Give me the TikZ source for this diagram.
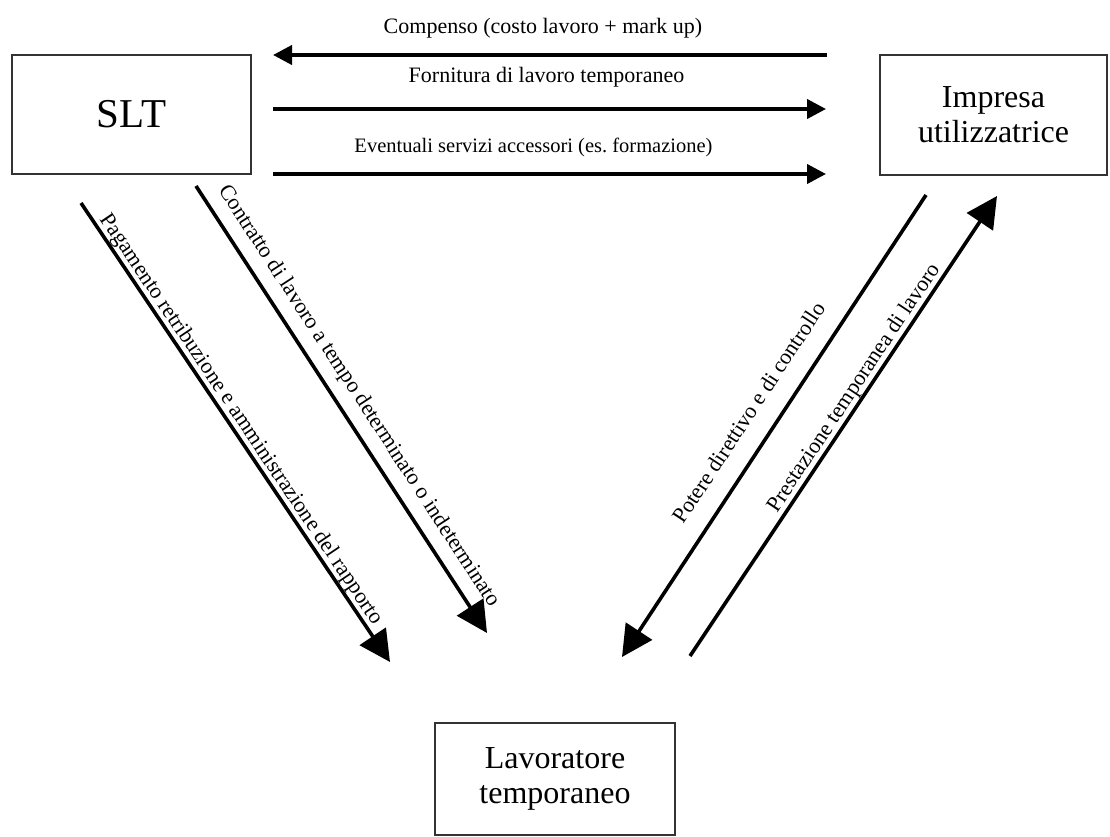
\documentclass[tikz,border=0pt]{standalone}
\usepackage{fontspec}
\setmainfont{Liberation Serif}
\usetikzlibrary{arrows.meta}
\usetikzlibrary{positioning}
\tikzset{
    party/.style = {rectangle, draw=black!80, line width=1.3pt, align=center, inner sep=0pt},
    partysmall/.style = {party, font=\fontsize{32}{35}\selectfont},
    flow/.style = {line width=4pt, -{Triangle[length=19pt, width=19pt]}},
    bigflow/.style = {line width=3.6pt, -{Triangle[length=31pt, width=31pt]}},
    lbl/.style = {font=\fontsize{22}{26}\selectfont, anchor=base, yshift=21pt},
    slbl/.style = {font=\fontsize{22}{26}\selectfont, sloped, above},
}

\begin{document}
\begin{tikzpicture}[x=1pt, y=-1pt]
\useasboundingbox (0,0) rectangle (1110,837);
\node[party, font=\fontsize{41}{46}\selectfont, minimum width=239pt, minimum height=119pt] at (131.5,114.5) (slt) {SLT};
\node[partysmall, minimum width=227pt, minimum height=120pt] at (993.5,115) (imp) {Impresa\\utilizzatrice};
\node[partysmall, minimum width=240pt, minimum height=112pt] at (555,779) (lav) {Lavoratore\\temporaneo};
%
\coordinate (h1l) at (273,55);
\coordinate (h1r) at (827,55);
\coordinate (h2l) at (273,109);
\coordinate (h2r) at (826,109);
\coordinate (h3l) at (273,174);
\coordinate (h3r) at (826,174);
%
\draw[flow] (h1r) -- node[lbl, xshift=-7pt] {Compenso (costo lavoro + mark up)} (h1l);
\draw[flow] (h2l) -- node[lbl, xshift=-3pt, yshift=5pt] {Fornitura di lavoro temporaneo} (h2r);
\draw[flow] (h3l) -- node[lbl, xshift=-16pt, font=\fontsize{20.5}{24}\selectfont] {Eventuali servizi accessori (es.\ formazione)} (h3r);
%
\coordinate (d1a) at (81,203);
\coordinate (d1b) at (390,662);
\coordinate (d2a) at (196,186);
\coordinate (d2b) at (487,633);
\coordinate (d3a) at (926,195);
\coordinate (d3b) at (622,657);
\coordinate (d4a) at (690,656);
\coordinate (d4b) at (997,196);
%
\draw[bigflow] (d1a) -- node[slbl, pos=0.486, inner sep=0pt] {Pagamento retribuzione e amministrazione del rapporto} (d1b);
\draw[bigflow] (d2a) -- node[slbl, pos=0.497, inner sep=10pt] {Contratto di lavoro a tempo determinato o indeterminato} (d2b);
\draw[bigflow] (d3a) -- node[slbl, pos=0.505, inner sep=19pt] {Potere direttivo e di controllo} (d3b);
\draw[bigflow] (d4a) -- node[slbl, pos=0.568, inner sep=0pt] {Prestazione temporanea di lavoro} (d4b);
\end{tikzpicture}
\end{document}
